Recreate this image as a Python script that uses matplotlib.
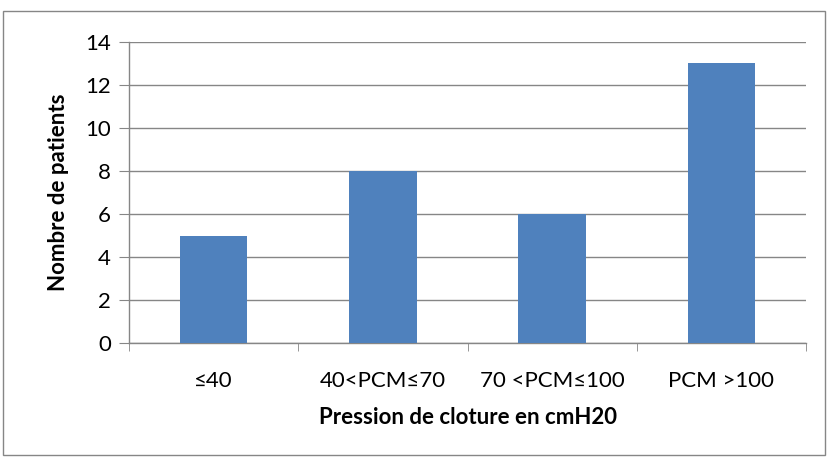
import matplotlib
matplotlib.use("Agg")
import matplotlib.pyplot as plt
from matplotlib.patches import Rectangle

categories = ["≤40", "40<PCM≤70", "70 <PCM≤100", "PCM >100"]
values = [5, 8, 6, 13]
yticks = [0, 2, 4, 6, 8, 10, 12, 14]

plt.rcParams['font.family'] = ['Lato', 'DejaVu Sans']

fig = plt.figure(figsize=(8.38, 4.61), dpi=100)
W, H = 838, 461
ax = fig.add_axes([129/W, 1-343/H, (806-129)/W, (343-42)/H])

x = list(range(len(categories)))
ax.bar(x, values, width=0.4, color="#4F81BD", zorder=3)
ax.set_xlim(-0.5, len(categories)-0.5)
ax.set_ylim(0, 14)
ax.set_yticks(yticks)
ax.set_yticklabels([str(v) for v in yticks], fontsize=16)
ax.set_xticks(x)
ax.set_xticklabels(categories, fontsize=16)
ax.tick_params(axis='x', length=0, pad=20)
ax.set_xticks([i - 0.5 for i in range(len(categories)+1)], minor=True)
ax.tick_params(axis='x', which='minor', length=6, color="#868686", direction='out')
ax.tick_params(axis='y', length=7, color="#868686", direction='out', pad=6)
ax.grid(axis='y', color="#868686", linewidth=1, zorder=0)
for s in ['top', 'right']:
    ax.spines[s].set_visible(False)
for s in ['left', 'bottom']:
    ax.spines[s].set_color("#868686")
    ax.spines[s].set_linewidth(1)
ax.set_xlabel("Pression de cloture en cmH20", fontsize=16, fontweight='bold', labelpad=12)
ax.set_ylabel("Nombre de patients", fontsize=16, fontweight='bold', labelpad=12)

fig.patches.append(Rectangle((3/W, 1-455/H), 822/W, 444/H, transform=fig.transFigure,
                             fill=False, edgecolor="#868686", linewidth=1))
fig.savefig("out.png", dpi=100)
